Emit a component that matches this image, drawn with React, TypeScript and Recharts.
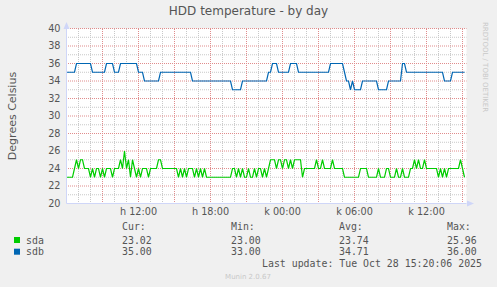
import React from "react";
import { LineChart, Line, XAxis, YAxis, ReferenceLine, CartesianGrid } from "recharts";

// Samples every 10 minutes starting Oct 27 06:00 (hours counted from Oct 27 00:00)
const startHour = 6;
const stepMinutes = 10;

const sdaTemps = [
  23, 23, 23, 23, 24, 25, 24, 25, 25, 24,
  24, 24, 23, 24, 23, 24, 24, 23, 24, 23,
  24, 24, 24, 23, 24, 24, 24, 25, 24, 26,
  24, 25, 23, 25, 24, 23, 24, 23, 24, 24,
  24, 23, 24, 24, 24, 24, 25, 25, 24, 24,
  24, 24, 24, 24, 24, 24, 23, 24, 23, 24,
  23, 24, 24, 24, 23, 24, 23, 24, 23, 24,
  23, 23, 23, 23, 23, 23, 23, 23, 23, 23,
  23, 23, 23, 24, 24, 23, 24, 23, 24, 23,
  23, 24, 23, 23, 24, 23, 24, 24, 23, 24,
  23, 24, 25, 25, 25, 24, 25, 25, 24, 25,
  25, 24, 25, 24, 25, 25, 25, 25, 23, 24,
  24, 24, 24, 24, 24, 25, 24, 24, 25, 24,
  24, 24, 24, 25, 24, 24, 24, 24, 24, 23,
  23, 23, 23, 23, 23, 23, 23, 24, 24, 24,
  24, 23, 23, 23, 23, 23, 24, 23, 23, 23,
  24, 24, 23, 23, 23, 24, 23, 23, 24, 23,
  23, 23, 24, 24, 25, 24, 25, 24, 24, 25,
  24, 24, 24, 24, 24, 24, 23, 24, 23, 24,
  23, 24, 24, 24, 24, 24, 24, 25, 24, 23,
];

const sdbTemps = [
  35, 35, 35, 35, 35, 36, 36, 36, 36, 36,
  36, 36, 36, 35, 35, 35, 35, 35, 35, 35,
  36, 36, 36, 36, 35, 35, 35, 36, 36, 36,
  36, 36, 36, 36, 36, 36, 35, 35, 35, 34,
  34, 34, 34, 34, 34, 34, 34, 35, 35, 35,
  35, 35, 35, 35, 35, 35, 35, 35, 35, 35,
  35, 35, 35, 34, 34, 34, 34, 34, 34, 34,
  34, 34, 34, 34, 34, 34, 34, 34, 34, 34,
  34, 34, 34, 33, 33, 33, 33, 33, 34, 34,
  34, 34, 34, 34, 34, 34, 34, 34, 34, 34,
  34, 35, 35, 36, 36, 36, 35, 35, 35, 35,
  35, 35, 36, 36, 36, 36, 35, 35, 35, 35,
  35, 35, 35, 35, 35, 35, 35, 35, 35, 35,
  35, 35, 36, 36, 36, 36, 36, 36, 36, 35,
  34, 34, 33, 34, 33, 33, 33, 33, 34, 34,
  34, 34, 34, 34, 34, 34, 33, 33, 33, 33,
  33, 34, 34, 34, 34, 34, 34, 34, 36, 36,
  35, 35, 35, 35, 35, 35, 35, 35, 35, 35,
  35, 35, 35, 35, 35, 35, 35, 35, 35, 34,
  34, 34, 34, 35, 35, 35, 35, 35, 35, 35,
];

const xTickHours = [12, 18, 24, 30, 36];
const xTickLabels = ["h 12:00", "h 18:00", "k 00:00", "k 06:00", "k 12:00"];
const yTicks = [20, 22, 24, 26, 28, 30, 32, 34, 36, 38, 40];

const seriesNames = ["sda", "sdb"];
const seriesColors = ["#00cc00", "#0066b3"];
const statHeaders = ["Cur:", "Min:", "Avg:", "Max:"];
const sdaStats = ["23.02", "23.00", "23.74", "25.96"];
const sdbStats = ["35.00", "33.00", "34.71", "36.00"];
const lastUpdate = "Last update: Tue Oct 28 15:20:06 2025";
const titleText = "HDD temperature - by day";
const yLabelText = "Degrees Celsius";
const footerText = "Munin 2.0.67";
const sideText = "RRDTOOL / TOBI OETIKER";

const data = sdaTemps.map((v, i) => ({
  hour: startHour + (i * stepMinutes) / 60,
  sda: v,
  sdb: sdbTemps[i],
}));

const xDomain: [number, number] = [6, 6 + 400 / 12];

const minorHours: number[] = [];
const majorHours: number[] = [];
for (let h = 7; h <= 39; h++) {
  if (h % 3 === 0) majorHours.push(h);
  else minorHours.push(h);
}
const minorY: number[] = [];
const majorY: number[] = [];
for (let v = 21; v <= 40; v++) {
  if (v % 2 === 0) majorY.push(v);
  else minorY.push(v);
}

const GRID_MINOR = "#c8c8c8";
const GRID_MAJOR = "#e08c8c";
const AXIS = "#CFD6F8";
const FONT = "DejaVu Sans, sans-serif";
const MONO = "DejaVu Sans Mono, monospace";
const TXT = "#555555";

const statCols = [122, 231, 339, 447];

export default function App() {
  const rows = [sdaStats, sdbStats];
  return (
    <div
      style={{
        position: "absolute",
        left: 0,
        top: 0,
        width: 497,
        height: 287,
        background: "#f0f0f0",
        overflow: "hidden",
      }}
    >
      <LineChart
        width={497}
        height={287}
        data={data}
        margin={{ top: 28.5, right: 30.5, bottom: 63.5, left: 6.5 }}
      >
        <CartesianGrid horizontal={false} vertical={false} fill="#ffffff" stroke="none" />
        {minorHours.map((h) => (
          <ReferenceLine key={"vm" + h} x={h} stroke={GRID_MINOR} strokeDasharray="1 1" strokeDashoffset={0.5} />
        ))}
        {minorY.map((v) => (
          <ReferenceLine key={"hm" + v} y={v} stroke={GRID_MINOR} strokeDasharray="1 1" strokeDashoffset={0.5} />
        ))}
        {majorHours.map((h) => (
          <ReferenceLine key={"vM" + h} x={h} stroke={GRID_MAJOR} strokeDasharray="1 1" strokeDashoffset={0.5} />
        ))}
        {majorY.map((v) => (
          <ReferenceLine key={"hM" + v} y={v} stroke={GRID_MAJOR} strokeDasharray="1 1" strokeDashoffset={0.5} />
        ))}
        <XAxis
          dataKey="hour"
          type="number"
          domain={xDomain}
          allowDataOverflow
          ticks={xTickHours}
          tickFormatter={(h: number) => xTickLabels[xTickHours.indexOf(h)] ?? ""}
          height={20}
          tickLine={false}
          tickSize={0}
          tickMargin={5}
          axisLine={{ stroke: AXIS }}
          tick={{ fontSize: 9.7, fill: TXT, fontFamily: FONT }}
          interval={0}
        />
        <YAxis
          type="number"
          domain={[20, 40]}
          ticks={yTicks}
          width={60}
          tickLine={false}
          tickSize={0}
          tickMargin={6}
          axisLine={{ stroke: AXIS }}
          tick={{ fontSize: 9.7, fill: TXT, fontFamily: FONT }}
          interval={0}
        />
        <Line
          type="linear"
          dataKey="sda"
          stroke={seriesColors[0]}
          strokeWidth={1.2}
          dot={false}
          isAnimationActive={false}
        />
        <Line
          type="linear"
          dataKey="sdb"
          stroke={seriesColors[1]}
          strokeWidth={1.2}
          dot={false}
          isAnimationActive={false}
        />
      </LineChart>
      <svg
        width={497}
        height={287}
        style={{ position: "absolute", left: 0, top: 0, pointerEvents: "none" }}
      >
        <polygon points="63.5,29 69.5,29 66.5,22" fill={AXIS} />
        <polygon points="467,200.5 467,206.5 474,203.5" fill={AXIS} />
        <text x={248.5} y={14.5} textAnchor="middle" fontFamily={FONT} fontSize={12} fill={TXT}>
          {titleText}
        </text>
        <text
          x={16}
          y={116}
          textAnchor="middle"
          fontFamily={FONT}
          fontSize={11}
          fill={TXT}
          transform="rotate(-90 16 116)"
        >
          {yLabelText}
        </text>
        <text
          x={483}
          y={22}
          textAnchor="start"
          fontFamily={FONT}
          fontSize={7}
          fill="#c8c8c8"
          transform="rotate(90 483 22)"
        >
          {sideText}
        </text>
        {statHeaders.map((h, i) => (
          <text key={h} x={statCols[i]} y={230} fontFamily={MONO} fontSize={9.9} fill={TXT}>
            {h}
          </text>
        ))}
        {rows.map((row, r) => (
          <g key={seriesNames[r]}>
            <rect x={14} y={237 + r * 11.7} width={6} height={6} fill={seriesColors[r]} />
            <text x={26} y={243.5 + r * 11.7} fontFamily={MONO} fontSize={9.9} fill={TXT}>
              {seriesNames[r]}
            </text>
            {row.map((v, i) => (
              <text key={i} x={statCols[i]} y={243.5 + r * 11.7} fontFamily={MONO} fontSize={9.9} fill={TXT}>
                {v}
              </text>
            ))}
          </g>
        ))}
        <text x={262} y={267} fontFamily={MONO} fontSize={9.9} fill={TXT}>
          {lastUpdate}
        </text>
        <text x={248} y={279} textAnchor="middle" fontFamily={FONT} fontSize={7} fill="#c8c8c8">
          {footerText}
        </text>
      </svg>
    </div>
  );
}
